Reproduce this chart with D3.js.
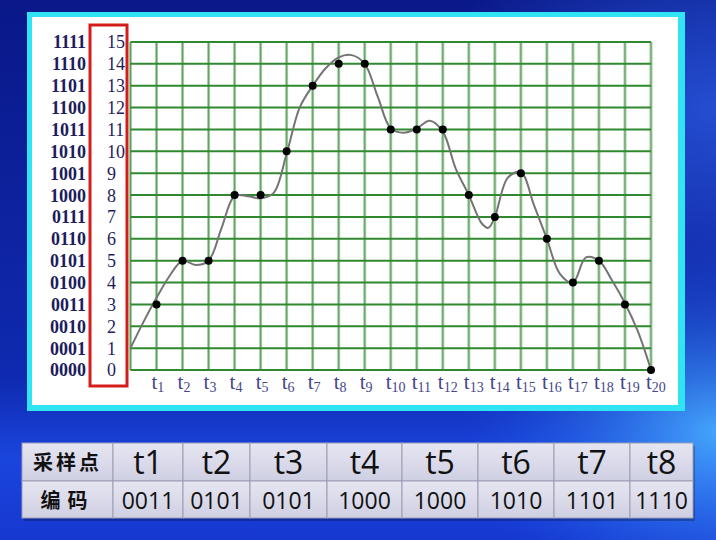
<!DOCTYPE html>
<html>
<head>
<meta charset="utf-8">
<script src="https://cdn.jsdelivr.net/npm/d3@7"></script>
<style>
  body { margin: 0; background: #0c1c8e; }
  svg { display: block; }
</style>
</head>
<body>
<div id="chart"></div>
<script>
var width = 716, height = 540;

// sampling instants t1..t20 and their quantized values
var sampleIdx = d3.range(1, 21);
var sampleVals = [3, 5, 5, 8, 8, 10, 13, 14, 14, 11, 11, 11, 8, 7, 9, 6, 4, 5, 3, 0];

// analog signal (time in sample units, level)
var curveT = [0, 0.5, 1, 1.5, 2, 2.5, 3, 3.5, 4, 4.5, 5, 5.5, 6, 6.5, 7, 7.5, 8, 8.5, 9, 9.5, 10,
  10.5, 11, 11.5, 12, 12.5, 13, 13.5, 13.75, 14, 14.5, 15, 15.5, 16, 16.5, 17, 17.5, 18, 18.5, 19, 19.5, 20];
var curveV = [1.0, 2.2, 3.3, 4.3, 5.0, 4.8, 5.0, 6.5, 7.95, 7.95, 7.85, 8.1, 9.9, 12.0, 13.0, 13.8, 14.3, 14.4, 14.0, 12.5, 11.05,
  10.85, 11.05, 11.4, 10.9, 9.2, 8.0, 6.7, 6.5, 7.0, 8.8, 9.05, 7.55, 6.0, 4.4, 4.0, 5.15, 5.0, 4.1, 3.05, 1.75, 0];

// level tick labels
var levels = d3.range(0, 16);
var levelCodes = ["0000", "0001", "0010", "0011", "0100", "0101", "0110", "0111",
  "1000", "1001", "1010", "1011", "1100", "1101", "1110", "1111"];

// table below the chart
var tableHead = ["采样点", "t1", "t2", "t3", "t4", "t5", "t6", "t7", "t8"];
var tableCode = ["编码", "0011", "0101", "0101", "1000", "1000", "1010", "1101", "1110"];
var colEdges = [22, 113, 183, 250, 327, 402, 478, 554, 630, 693];

var svg = d3.select("#chart").append("svg")
  .attr("width", width)
  .attr("height", height);

var defs = svg.append("defs");
var bg = defs.append("linearGradient").attr("id", "bg").attr("x1", 0).attr("y1", 0).attr("x2", 0).attr("y2", 1);
bg.append("stop").attr("offset", "0%").attr("stop-color", "#0a1888");
bg.append("stop").attr("offset", "70%").attr("stop-color", "#0f2ab0");
bg.append("stop").attr("offset", "85%").attr("stop-color", "#1a45de");
bg.append("stop").attr("offset", "100%").attr("stop-color", "#1638d0");
var glow = defs.append("radialGradient").attr("id", "glow").attr("cx", 1).attr("cy", 0.8).attr("r", 0.35);
glow.append("stop").attr("offset", "0%").attr("stop-color", "#4ab0ff").attr("stop-opacity", 0.9);
glow.append("stop").attr("offset", "100%").attr("stop-color", "#2060f0").attr("stop-opacity", 0);
var glow2 = defs.append("radialGradient").attr("id", "glow2").attr("cx", 1).attr("cy", 0.2).attr("r", 0.4);
glow2.append("stop").attr("offset", "0%").attr("stop-color", "#2a5ae0").attr("stop-opacity", 0.8);
glow2.append("stop").attr("offset", "100%").attr("stop-color", "#2a5ae0").attr("stop-opacity", 0);
var cellGrad = defs.append("linearGradient").attr("id", "cell").attr("x1", 0).attr("y1", 0).attr("x2", 0).attr("y2", 1);
cellGrad.append("stop").attr("offset", "0%").attr("stop-color", "#e6e6f2");
cellGrad.append("stop").attr("offset", "100%").attr("stop-color", "#cfcfe3");

svg.append("rect").attr("width", width).attr("height", height).attr("fill", "url(#bg)");
svg.append("rect").attr("width", width).attr("height", height).attr("fill", "url(#glow)");
svg.append("rect").attr("width", width).attr("height", height).attr("fill", "url(#glow2)");

// white panel with cyan frame
svg.append("rect").attr("x", 27).attr("y", 12).attr("width", 658).attr("height", 399).attr("fill", "#30e4f4");
svg.append("rect").attr("x", 32).attr("y", 17).attr("width", 646).attr("height", 388).attr("fill", "#ffffff");

var x = d3.scaleLinear().domain([0, 20]).range([130.5, 651]);
var y = d3.scaleLinear().domain([0, 15]).range([370, 42]);

// grid
var g = svg.append("g");
g.selectAll(".vl").data(d3.range(0, 21)).enter().append("line")
  .attr("x1", d => x(d)).attr("x2", d => x(d))
  .attr("y1", y(0)).attr("y2", y(15))
  .attr("stroke", "#a2cea2").attr("stroke-width", 3);
g.selectAll(".vl2").data(d3.range(0, 21)).enter().append("line")
  .attr("x1", d => x(d)).attr("x2", d => x(d))
  .attr("y1", y(0)).attr("y2", y(15))
  .attr("stroke", "#5e9e5e").attr("stroke-width", 1);
g.selectAll(".hl").data(levels).enter().append("line")
  .attr("x1", x(0)).attr("x2", x(20))
  .attr("y1", d => y(d)).attr("y2", d => y(d))
  .attr("stroke", "#2f8a2f").attr("stroke-width", 2);

// red box around the decimal levels
svg.append("rect").attr("x", 90).attr("y", 25).attr("width", 37).attr("height", 361)
  .attr("fill", "none").attr("stroke", "#d41c1c").attr("stroke-width", 3);

svg.selectAll(".dec").data(levels).enter().append("text")
  .attr("x", 107).attr("y", d => y(d)).attr("dy", "0.36em")
  .attr("font-family", "'Liberation Serif', 'Times New Roman', serif")
  .attr("font-size", 18).attr("fill", "#1e1e5c")
  .text(d => d);

svg.selectAll(".bin").data(levels).enter().append("text")
  .attr("x", 86).attr("y", d => y(d)).attr("dy", "0.36em")
  .attr("text-anchor", "end")
  .attr("font-family", "'Liberation Serif', 'Times New Roman', serif")
  .attr("font-weight", "bold")
  .attr("font-size", 18).attr("fill", "#1c1c5e")
  .text(d => levelCodes[d]);

// t labels
var tl = svg.selectAll(".tl").data(sampleIdx).enter().append("text")
  .attr("x", d => x(d) - 5).attr("y", 389)
  .attr("font-family", "'Liberation Serif', 'Times New Roman', serif")
  .attr("fill", "#45458a");
tl.append("tspan").attr("font-size", 21).text("t");
tl.append("tspan").attr("font-size", 14).attr("dy", 3).text(d => d);

// analog curve
var line = d3.line()
  .x((d, i) => x(curveT[i]))
  .y(d => y(d))
  .curve(d3.curveCatmullRom.alpha(0.5));
svg.append("path").datum(curveV)
  .attr("d", line)
  .attr("fill", "none").attr("stroke", "#747474").attr("stroke-width", 2);

// sampled points
svg.selectAll(".dot").data(sampleVals).enter().append("circle")
  .attr("cx", (d, i) => x(sampleIdx[i]))
  .attr("cy", d => y(d))
  .attr("r", 4).attr("fill", "#000");

// table
var rows = [
  { y: 443, h: 38, cells: tableHead, size: 32, base: 474 },
  { y: 481, h: 37, cells: tableCode, size: 23, base: 509 }
];
svg.append("rect").attr("x", 24).attr("y", 446).attr("width", 671).attr("height", 75)
  .attr("fill", "#000").attr("opacity", 0.25);
rows.forEach(function (r, ri) {
  var rg = svg.append("g");
  rg.selectAll("rect").data(r.cells).enter().append("rect")
    .attr("x", (d, i) => colEdges[i]).attr("y", r.y)
    .attr("width", (d, i) => colEdges[i + 1] - colEdges[i]).attr("height", r.h)
    .attr("fill", "url(#cell)").attr("stroke", "#9c9cb4").attr("stroke-width", 1);
  rg.selectAll("text").data(r.cells).enter().append("text")
    .attr("x", (d, i) => (colEdges[i] + colEdges[i + 1]) / 2)
    .attr("y", (d, i) => i === 0 ? r.base - (ri === 0 ? 4 : 1) : r.base)
    .attr("text-anchor", "middle")
    .attr("font-family", (d, i) => i === 0 ? "'Noto Sans CJK SC', sans-serif" : "'Open Sans', 'Liberation Sans', sans-serif")
    .attr("font-weight", (d, i) => i === 0 ? "bold" : "normal")
    .attr("font-size", (d, i) => i === 0 ? 20 : r.size)
    .attr("letter-spacing", (d, i) => i === 0 ? (ri === 0 ? 3 : 7) : 0)
    .attr("fill", "#111")
    .text(d => d);
});
</script>
</body>
</html>
